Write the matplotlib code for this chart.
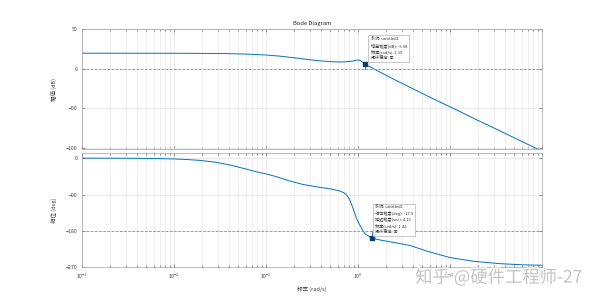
import matplotlib
matplotlib.use('Agg')
import matplotlib.pyplot as plt
import matplotlib.patheffects as pe
import numpy as np

plt.rcParams['font.family'] = ['Noto Sans CJK SC', 'DejaVu Sans']

# magnitude curve (log10 freq, dB)
mag_logf = [-3.0, -2.0, -1.6, -1.4, -1.2, -1.0, -0.85, -0.7, -0.55, -0.41, -0.3, -0.2,
            -0.12, -0.06, -0.02, 0.01, 0.03, 0.05, 0.08, 0.12, 0.2, 0.3, 0.4, 0.565,
            0.8, 1.054, 1.3, 1.5, 1.75, 2.0]
mag_db = [19.5, 19.4, 19.2, 18.9, 18.3, 17.2, 15.8, 13.8, 11.6, 9.8, 8.8, 8.4,
          8.7, 9.6, 10.6, 10.9, 10.0, 8.2, 5.8, 3.0, -2.0, -8.0, -14.0, -23.5,
          -37.0, -51.0, -65.0, -76.0, -90.0, -104.0]

# phase curve (log10 freq, deg)
ph_logf = [-3.0, -2.5, -2.2, -2.0, -1.85, -1.72, -1.55, -1.39, -1.25, -1.1, -1.0, -0.9,
           -0.75, -0.6, -0.45, -0.3, -0.2, -0.15, -0.12, -0.09, -0.054, -0.02, 0.02,
           0.05, 0.08, 0.152, 0.25, 0.4, 0.565, 0.75, 1.0, 1.25, 1.54, 1.8, 2.0]
ph_deg = [0.0, -0.3, -1.0, -2.0, -3.5, -5.5, -10.0, -17.0, -25.0, -34.0, -39.0, -45.0,
          -56.0, -65.0, -71.0, -76.0, -81.0, -86.0, -92.0, -103.0, -124.0, -147.0, -166.0,
          -178.0, -188.0, -198.0, -203.0, -209.0, -216.0, -230.0, -246.0, -255.0, -261.0,
          -264.0, -265.0]

# stability margin datatips
gm_freq, gm_mag = 1.19, 5.98
pm_freq, pm_phase = 1.42, -197.9
gm_text = '系统: untitled1\n增益裕度(dB): -5.98\n频率(rad/s): 1.19\n闭环稳定: 否'
pm_text = ('系统: untitled1\n相位裕度(deg): -17.9\n延迟裕度(sec): 4.19\n'
           '频率(rad/s): 1.42\n闭环稳定: 否')

line_c = '#0072BD'
grid_c = '#e3e3e3'
txt_c = '#404040'

fig = plt.figure(figsize=(6.0, 3.01), dpi=100)
ax1 = fig.add_axes([0.1367, 0.504, 0.7666, 0.3997])
ax2 = fig.add_axes([0.1367, 0.112, 0.7666, 0.3787])

f_mag = 10 ** np.array(mag_logf)
f_ph = 10 ** np.array(ph_logf)

ax1.plot(f_mag, mag_db, color=line_c, lw=0.7)
ax2.plot(f_ph, ph_deg, color=line_c, lw=0.7)

ax1.axhline(0, color='#8c8c8c', ls='--', lw=0.6, dashes=(3, 2))
ax2.axhline(-180, color='#8c8c8c', ls='--', lw=0.6, dashes=(3, 2))

for ax in (ax1, ax2):
    ax.set_xscale('log')
    ax.set_xlim(1e-3, 1e2)
    ax.grid(True, which='major', color=grid_c, lw=0.5)
    ax.grid(True, which='minor', axis='x', color=grid_c, lw=0.4)
    ax.tick_params(which='both', direction='in', top=True, right=True,
                   labelsize=3.8, colors=txt_c, length=2, width=0.4)
    ax.tick_params(which='minor', length=1.2)
    for s in ax.spines.values():
        s.set_color('#a0a0a0')
        s.set_linewidth(0.5)
    ax.set_axisbelow(True)

ax1.set_ylim(-101.6, 50)
ax1.set_yticks([50, 0, -50, -100])
ax1.tick_params(axis='x', which='both', labelbottom=False)
ax2.set_ylim(-270, 12)
ax2.set_yticks([0, -90, -180, -270])

ax1.set_title('Bode Diagram', fontsize=4.2, color='#202020', pad=3)
ax1.set_ylabel('幅值 (dB)', fontsize=4, color=txt_c)
ax2.set_ylabel('相位 (deg)', fontsize=4, color=txt_c)
ax2.set_xlabel('频率 (rad/s)', fontsize=4, color=txt_c, labelpad=3)
ax1.yaxis.set_label_coords(-0.055, 0.5)
ax2.yaxis.set_label_coords(-0.055, 0.5)

# gain margin marker
ax1.plot([gm_freq, gm_freq], [0, gm_mag], color=line_c, lw=0.6)
ax1.plot(gm_freq, gm_mag, 's', color='#0b3a66', ms=2.2)
ax1.annotate(gm_text, xy=(gm_freq, gm_mag), xytext=(4, 3), textcoords='offset points',
             fontsize=3.0, color='#303030', linespacing=1.4, va='bottom', ha='left',
             bbox=dict(boxstyle='square,pad=0.5', fc='white', ec='#b0b0b0', lw=0.5))

# phase margin marker
ax2.plot([pm_freq, pm_freq], [-180, pm_phase], color=line_c, lw=0.6)
ax2.plot(pm_freq, pm_phase, 's', color='#0b3a66', ms=2.2)
ax2.annotate(pm_text, xy=(pm_freq, pm_phase), xytext=(2, 3), textcoords='offset points',
             fontsize=3.0, color='#303030', linespacing=1.4, va='bottom', ha='left',
             bbox=dict(boxstyle='square,pad=0.5', fc='white', ec='#b0b0b0', lw=0.5))

# watermark
fig.text(0.692, 0.078, '知乎 @硬件工程师-27', fontsize=12.5, color='#c4c4c4',
         ha='left', va='center', zorder=10,
         path_effects=[pe.withStroke(linewidth=2, foreground='white')])

fig.savefig('out.png', dpi=100)
